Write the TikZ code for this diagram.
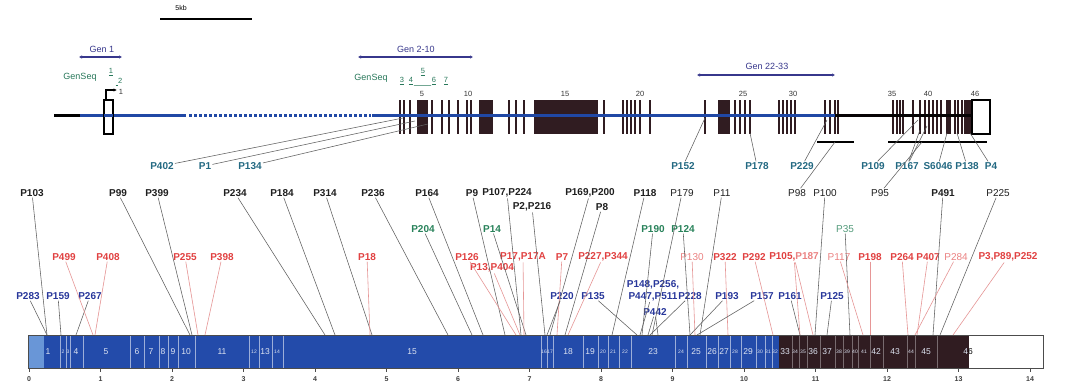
\documentclass[tikz,border=0pt]{standalone}
\usepackage{fontspec}
\setmainfont{Liberation Sans}
\usetikzlibrary{arrows.meta}
\definecolor{barblue}{RGB}{35,75,170}
\definecolor{lightbl}{RGB}{105,150,215}
\definecolor{darkex}{RGB}{48,28,33}
\definecolor{bbblue}{RGB}{32,72,165}
\definecolor{navyc}{RGB}{55,55,140}
\definecolor{gseq}{RGB}{40,120,90}
\definecolor{tealc}{RGB}{35,105,130}
\definecolor{lred}{RGB}{225,65,65}
\definecolor{pred}{RGB}{235,130,130}
\definecolor{lblue}{RGB}{40,55,155}
\definecolor{lgreen}{RGB}{40,130,90}
\definecolor{linec}{RGB}{95,95,95}
\definecolor{rline}{RGB}{230,150,150}
\newcommand\cnx[5][conn]{\coordinate (#2#3) at (#4,#5);\draw[#1] (#2) -- (#2#3);}
\begin{document}
\begin{tikzpicture}[x=1pt,y=-1pt,
  lbl/.style={inner sep=1pt, font=\fontsize{10}{11}\selectfont\bfseries},
  lbn/.style={inner sep=1pt, font=\fontsize{10}{11}\selectfont},
  conn/.style={draw=linec, line width=0.55pt},
  rconn/.style={draw=rline, line width=0.6pt},
  exn/.style={font=\fontsize{8.5}{8.5}\selectfont, text=white!85!barblue, inner sep=0pt},
  exs/.style={font=\fontsize{5}{5}\selectfont, text=white!85!barblue, inner sep=0pt},
  gs/.style={font=\fontsize{7.5}{8}\selectfont, text=gseq, inner sep=0.5pt},
  genlab/.style={font=\fontsize{9}{10}\selectfont, text=navyc, inner sep=0.5pt},
  rng/.style={navyc, line width=1.1pt, {Latex[length=3pt,width=3.5pt]}-{Latex[length=3pt,width=3.5pt]}},
  exl/.style={font=\fontsize{7.5}{7.5}\selectfont, text=black!80, inner sep=0pt},
  tk/.style={font=\fontsize{7}{7}\selectfont\bfseries, text=black!75, inner sep=0pt}]
\fill[white] (0,0) rectangle (1080,387);
\useasboundingbox (0,0) rectangle (1080,387);

% ---------- scale bar
\node[font=\fontsize{7}{7}\selectfont, inner sep=0pt] (kb) at (181,8) {5kb};
\coordinate (kbL) at (160,19); \coordinate (kbR) at (252,19);
\draw[line width=2.4pt] (kbL) -- (kbR);

% ---------- ranges
\node[genlab] (gen1) at (102,49) {Gen 1};
\coordinate (g1a) at (79,57); \coordinate (g1b) at (122,57);
\draw[rng] (g1a) -- (g1b);
\node[genlab] (gen2) at (416,49) {Gen 2-10};
\coordinate (g2a) at (358,57); \coordinate (g2b) at (473,57);
\draw[rng] (g2a) -- (g2b);
\node[genlab] (gen3) at (767,66) {Gen 22-33};
\coordinate (g3a) at (697,75); \coordinate (g3b) at (835,75);
\draw[rng] (g3a) -- (g3b);

% ---------- GenSeq
\node[gs, font=\fontsize{9}{10}\selectfont] (gsA) at (80,77) {GenSeq};
\node[gs] (s1) at (111,72) {\underline{1}};
\node[gs] (s2) at (119,82) {\underline{\,\,}2};
\node[gs, font=\fontsize{9}{10}\selectfont] (gsB) at (371,78) {GenSeq};
\node[gs] (s3) at (402,81) {\underline{3}};
\node[gs] (s4) at (411,81) {\underline{4}};
\node[gs] (s5) at (423,72) {\underline{5}};
\node[gs] (s6) at (434,81) {\underline{6}};
\node[gs] (s7) at (446,81) {\underline{7}};
\draw[gseq, line width=0.5pt] (s4.south east) -- (s6.south west);

% ---------- exon numbers
\foreach \n/\x in {5/422,10/468,15/565,20/640,25/743,30/793,35/892,40/928,46/975}
  \node[exl] (en\n) at (\x,94) {\n};

% ---------- exons (gene structure)
\foreach \x in {400,404,410,432,442,449,458,467,471,509,516,524,604,623,627,631,635,640,650,705,735,740,745,750,779,783,787,791,795,825,830,835,838,893,897,900,903,913,920,925,929,933,937,941,955,958,962}
  \fill[darkex] (\x-1.3,100) rectangle (\x+1.3,134);
\foreach \a/\b in {416.5/427.5,478.5/493,534/598,718/730,946/951,964/972}
  \fill[darkex] (\a,100) rectangle (\b,134);
\draw[black, line width=1.2pt, fill=white] (972,100) rectangle (990,134);

% ---------- backbone
\draw[black, line width=3pt] (54,116) -- (80,116);
\draw[bbblue, line width=3pt] (80,116) -- (186,116);
\draw[bbblue, line width=3pt, dash pattern=on 2.6pt off 2.4pt] (189,116) -- (371,116);
\draw[bbblue, line width=3pt] (372,116) -- (835,116);
\draw[black!85!darkex, line width=3pt] (835,116) -- (972,116);
% exon 1 box and TSS arrow
\draw[black, line width=1.1pt] (104,100) rectangle (113,134);
\draw[bbblue, line width=3pt] (104,116) -- (113,116);
\draw[black, line width=1.1pt, -{Latex[length=3.5pt,width=3.5pt]}] (106,100) -- (106,90) -- (117,90);
\node[exl] (tss) at (121,92) {1};
% underlines
\coordinate (u1a) at (817,142); \coordinate (u1b) at (854,142);
\draw[black, line width=1.4pt] (u1a) -- (u1b);
\coordinate (u2a) at (888,142); \coordinate (u2b) at (987,142);
\draw[black, line width=1.4pt] (u2a) -- (u2b);

% ---------- gene-level labels
\foreach \nm/\x/\t in {p402/162/P402,p1/205/P1,p134/250/P134,p152/683/P152,p178/757/P178,p229/802/P229,p109/873/P109,p167/907/P167,s6046/938/S6046,p138/967/P138,p4/991/P4}
  \node[lbl, text=tealc] (\nm) at (\x,166) {\t};
\cnx{p402}{a}{403}{118}
\cnx{p1}{a}{415}{121}
\cnx{p134}{a}{428}{124}
\cnx{p152}{a}{705}{118}
\cnx{p178}{a}{750}{133}
\cnx{p229}{a}{827}{120}
\cnx{p109}{a}{918}{120}
\cnx{p167}{a}{920}{130}
\cnx{p167}{b}{927}{126}
\cnx{s6046}{a}{947}{133}
\cnx{p138}{a}{957}{133}
\cnx{p4}{a}{970}{133}

% ---------- cDNA bar
\fill[barblue] (28,335) rectangle (779,368);
\fill[lightbl] (28,335) rectangle (44,368);
\fill[darkex] (779,335) rectangle (969,368);
\fill[white] (969,335) rectangle (1043,368);
\foreach \x in {60,66,70,83,130,144,159,168,178,195,249,259,272,283,541,547,553,583,598,608,619,631,675,687,706,718,730,741,756,765,772}
  \draw[white!55!barblue, line width=0.5pt] (\x,335) -- (\x,368);
\foreach \x in {792,799,807,820,835,843,852,858,870,883,907,915,937}
  \draw[white!35!darkex, line width=0.5pt] (\x,335) -- (\x,368);
\draw[black!70, line width=0.6pt] (28,335) rectangle (1043,368);
\foreach \n/\x in {1/48,4/76,5/106,6/137,7/151,8/163,9/173,10/186,11/222,13/265,15/412,18/568,19/590,23/653,25/696,26/712,27/724,29/748,33/785,36/813,37/827,42/876,43/895,45/926}
  \node[exn] (ex\n) at (\x,352) {\n};
\foreach \n/\x in {2/63,3/68,12/254,14/277,16/544,17/550,20/603,21/613,22/625,24/681,28/735,30/760,31/768,32/775,34/795,35/803,38/839,39/847,40/855,41/864,44/911}
  \node[exs] (ex\n) at (\x,352) {\n};
\node[exn] (ex46) at (968,352) {4{\color{black}6}};
% axis
\foreach \k in {0,...,14} {
  \draw[black!70, line width=0.6pt] ({29+71.5*\k},368) -- ({29+71.5*\k},372);
  \node[tk] (t\k) at ({29+71.5*\k},379) {\k};
}

% ---------- row A (black)
\foreach \nm/\x/\t in {p103/32/P103,p99/118/P99,p399/157/P399,p234/235/P234,p184/282/P184,p314/325/P314,p236/373/P236,p164/427/P164,p9/472/P9,p107/507/{P107,P224},p169/590/{P169,P200},p118/645/P118,p491/943/P491}
  \node[lbl, text=black!88] (\nm) at (\x,193) {\t};
\foreach \nm/\x/\t in {p179/682/P179,p11/722/P11,p98/797/P98,p100/825/P100,p95/880/P95,p225/998/P225}
  \node[lbn, text=black!88] (\nm) at (\x,193) {\t};
\node[lbl, text=black!88] (p216) at (532,207) {P2,P216};
\node[lbl, text=black!88] (p8) at (602,207) {P8};
% row B (green)
\foreach \nm/\x/\t in {p204/423/P204,p14/492/P14,p190/653/P190,p124/683/P124}
  \node[lbl, text=lgreen] (\nm) at (\x,229) {\t};
\node[lbn, text=lgreen!80] (p35) at (845,229) {P35};
% row C (red)
\foreach \nm/\x/\t in {p499/64/P499,p408/108/P408,p255/185/P255,p398/222/P398,p18/367/P18,p126/467/P126,p17/523/{P17,P17A},p7/562/P7,p227/603/{P227,P344},p322/725/P322,p292/754/P292,p198/870/P198,p264/902/P264,p407/928/P407,p3/1008/{P3,P89,P252}}
  \node[lbl, text=lred] (\nm) at (\x,257) {\t};
\foreach \nm/\x/\t in {p130/692/P130,p117/839/P117,p284/956/P284}
  \node[lbn, text=pred] (\nm) at (\x,257) {\t};
\node[lbl] (p105) at (794,257) {{\color{lred}P105,}{\color{pred}P187}};
\node[lbl, text=lred] (p13) at (492,268) {P13,P404};
% row D (blue)
\foreach \nm/\x/\t in {p283/28/P283,p159/58/P159,p267/90/P267,p220/562/P220,p135/593/P135,p228/690/P228,p193/727/P193,p157/762/P157,p161/790/P161,p125/832/P125}
  \node[lbl, text=lblue] (\nm) at (\x,296) {\t};
\node[lbl, text=lblue, align=center, font=\fontsize{10}{11.5}\selectfont\bfseries] (p148) at (653,291) {P148,P256,\\P447,P511};
\node[lbl, text=lblue] (p442) at (655,312) {P442};

% ---------- connectors to the cDNA bar
\cnx{p103}{a}{47}{335}
\cnx{p283}{a}{47}{335}
\cnx{p159}{a}{61}{335}
\cnx{p267}{a}{76}{335}
\cnx[rconn]{p499}{a}{93}{335}
\cnx[rconn]{p408}{a}{95}{335}
\cnx{p99}{a}{190}{335}
\cnx{p399}{a}{192}{335}
\cnx[rconn]{p255}{a}{198}{335}
\cnx[rconn]{p398}{a}{205}{335}
\cnx{p234}{a}{325}{335}
\cnx{p184}{a}{335}{335}
\cnx{p314}{a}{372}{335}
\cnx[rconn]{p18}{a}{370}{335}
\cnx{p236}{a}{448}{335}
\cnx{p204}{a}{472}{335}
\cnx{p164}{a}{483}{335}
\cnx{p9}{a}{505}{335}
\cnx[rconn]{p126}{a}{516}{335}
\cnx[rconn]{p13}{a}{520}{335}
\cnx{p107}{a}{521}{335}
\cnx{p14}{a}{526}{335}
\cnx[rconn]{p17}{a}{524}{335}
\cnx{p216}{a}{545}{335}
\cnx{p169}{a}{550}{335}
\cnx[rconn]{p7}{a}{557}{335}
\cnx{p8}{a}{565}{335}
\cnx[rconn]{p227}{a}{568}{335}
\cnx{p220}{a}{547}{335}
\cnx{p135}{a}{637}{335}
\cnx{p118}{a}{612}{335}
\cnx{p179}{a}{652}{335}
\cnx{p190}{a}{642}{335}
\cnx{p148}{a}{640}{335}
\cnx{p442}{a}{648}{335}
\cnx{p442}{b}{658}{335}
\cnx{p228}{a}{650}{335}
\cnx{p124}{a}{690}{335}
\cnx[rconn]{p130}{a}{695}{335}
\cnx{p11}{a}{700}{335}
\cnx{p193}{a}{690}{335}
\cnx[rconn]{p322}{a}{728}{335}
\cnx{p157}{a}{697}{335}
\cnx[rconn]{p292}{a}{773}{335}
\cnx{p161}{a}{800}{335}
\cnx[rconn]{p105}{a}{800}{335}
\cnx[rconn]{p105}{b}{813}{335}
\cnx{p100}{a}{815}{335}
\cnx{p125}{a}{827}{335}
\cnx{p35}{a}{850}{335}
\cnx[rconn]{p117}{a}{863}{335}
\cnx[rconn]{p198}{a}{870}{335}
\cnx[rconn]{p264}{a}{908}{335}
\cnx[rconn]{p407}{a}{917}{335}
\cnx{p491}{a}{933}{335}
\cnx[rconn]{p284}{a}{915}{335}
\cnx{p225}{a}{940}{335}
\cnx[rconn]{p3}{a}{953}{335}
% connectors up to gene structure
\cnx{p98}{a}{835}{142}
\cnx{p95}{a}{922}{142}
\end{tikzpicture}
\end{document}
